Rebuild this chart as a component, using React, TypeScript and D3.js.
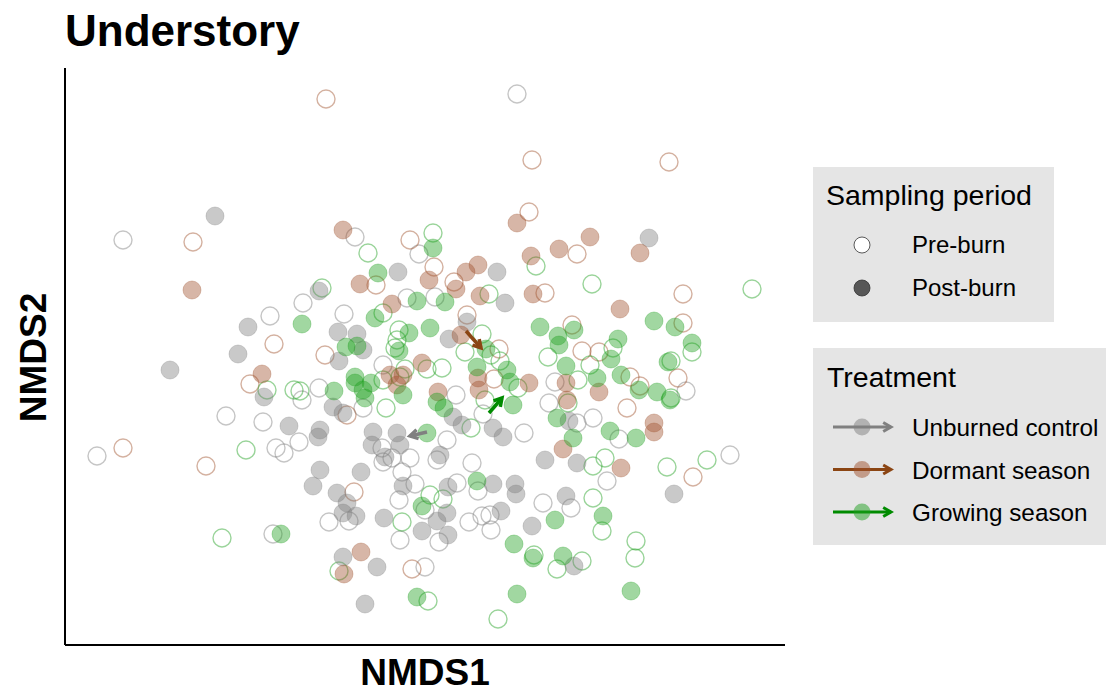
import React from "react";
import * as d3 from "d3";

// ---------- Data (NMDS scores) ----------
type Pt = [number, number];

const unburnedPre: Pt[] = [
  [-3.02, 1.17], [0.92, 2.63], [-0.7, 1.2], [-0.06, 1.03], [-1.22, 0.54], [-1.55, 0.41],
  [-1.23, -0.43], [-1.99, -0.59], [-1.62, -0.65], [-1.26, -0.85], [-1.49, -0.91], [-1.41, -0.96],
  [-3.28, -0.99], [-1.52, -1.77], [-0.81, 0.43], [-0.18, 0.59], [0.1, 0.6], [-0.42, -0.08],
  [-1.06, -0.31], [-0.62, -0.51], [0.31, -0.38], [0.58, -0.57], [0.99, -0.76], [-0.43, -0.91],
  [0.22, -0.83], [-0.33, -1.01], [0.12, -1.03], [-0.15, -1.01], [0.47, -1.06], [1.3, -0.25],
  [2.61, -0.34], [1.24, -0.46], [1.52, -0.66], [1.68, -0.61], [1.94, -0.82], [3.05, -0.98],
  [1.82, -1.24], [1.18, -1.46], [1.46, -1.51], [-0.42, -1.05], [-0.23, -1.15], [-0.76, -1.64],
  [-0.96, -1.65], [-0.1, -1.27], [-0.26, -1.43], [0.32, -1.26], [0.53, -1.34], [0.0, -1.53],
  [0.14, -1.85], [-0.25, -1.83], [0.44, -1.65], [0.57, -1.59], [0.65, -1.58], [0.66, -1.73],
  [0.0, -2.1],
];

const unburnedPost: Pt[] = [
  [-2.1, 1.41], [2.24, 1.19], [0.72, 0.85], [-0.27, 0.85], [-1.77, 0.3], [-1.87, 0.03],
  [-2.55, -0.13], [-1.61, -0.4], [-1.36, -0.69], [-1.06, 0.66], [0.8, 0.54], [-0.87, 0.25],
  [-0.68, 0.23], [-0.62, 0.07], [-0.86, -0.04], [0.24, 0.18], [0.42, 0.35], [-0.92, -0.5],
  [-0.82, -0.56], [0.28, -0.6], [0.37, -0.68], [0.68, -0.71], [0.78, -0.8], [-0.52, -0.75],
  [-0.28, -0.76], [-0.53, -0.88], [-0.25, -0.88], [-0.4, -1.0], [0.15, -0.98], [-1.05, -0.73],
  [-1.07, -0.8], [1.2, -1.03], [1.44, -0.64], [1.52, -1.06], [2.49, -1.37], [1.41, -1.39],
  [1.49, -2.09], [-1.12, -1.29], [-1.05, -1.13], [-0.64, -1.15], [-0.88, -1.36], [-0.78, -1.46],
  [-0.82, -1.56], [-0.69, -1.59], [-0.41, -1.61], [-0.22, -1.29], [0.23, -1.3], [0.68, -1.27],
  [0.9, -1.27], [0.91, -1.37], [0.22, -1.56], [0.12, -1.64], [-0.03, -1.74], [0.23, -1.78],
  [0.76, -1.54], [1.07, -1.69], [-0.82, -2.0], [-0.48, -2.1], [-0.6, -2.47],
];

const dormantPre: Pt[] = [
  [-2.32, 1.15], [-0.99, 2.58], [1.07, 1.97], [1.04, 1.45], [-0.15, 1.17], [0.09, 0.9],
  [1.52, 1.03], [2.44, 1.95], [-1.51, 0.13], [-1.75, -0.27], [-3.02, -0.91], [-2.19, -1.09],
  [-0.49, 0.72], [0.29, 0.75], [0.42, 0.42], [0.74, 0.08], [0.69, -0.22], [-1.0, 0.02],
  [-0.78, -0.58], [1.2, 0.64], [2.58, 0.63], [2.58, 0.34], [1.47, 0.32], [1.57, 0.06],
  [1.74, 0.05], [2.05, -0.2], [2.53, -0.21], [2.15, -0.29], [2.02, -0.51], [2.68, -1.2],
  [-0.71, -1.35], [-0.13, -2.12],
];

const dormantPost: Pt[] = [
  [-2.33, 0.67], [0.92, 1.34], [-0.82, 1.27], [0.53, 0.92], [0.41, 0.85], [1.06, 1.01],
  [1.65, 1.2], [1.34, 1.08], [2.15, 1.04], [-0.65, 0.73], [0.04, 0.77], [0.31, 0.68],
  [0.55, 0.61], [1.08, 0.63], [-0.33, 0.53], [0.36, 0.22], [1.04, -0.26], [0.53, -0.21],
  [0.54, -0.33], [-0.35, -0.18], [-0.22, -0.18], [-0.28, -0.28], [-0.03, -0.06], [0.13, -0.35],
  [-1.63, -0.17], [1.95, 0.48], [1.41, -0.26], [1.74, -0.35], [1.42, -0.43], [2.29, -0.66],
  [2.29, -0.75], [1.38, -0.92], [1.96, -1.11], [-0.64, -1.95], [-0.81, -2.17],
];

const growingPre: Pt[] = [
  [-0.57, 1.04], [0.08, 1.24], [1.11, 0.91], [-1.03, 0.69], [0.64, 0.63], [-0.42, 0.44],
  [-0.26, 0.27], [-0.28, 0.17], [-0.3, 0.09], [0.57, 0.23], [0.4, 0.05], [0.66, 0.02],
  [0.75, -0.04], [0.93, -0.31], [1.23, 0.0], [-0.2, -0.12], [-0.25, -0.2], [-0.42, -0.23],
  [0.02, -0.12], [0.17, -0.11], [-1.25, -0.34], [-0.39, -0.51], [0.46, -0.71], [0.6, -0.43],
  [-1.58, -0.33], [-1.31, -0.33], [-1.79, -0.93], [-2.03, -1.81], [1.67, 0.73], [3.27, 0.68],
  [1.88, 0.09], [1.65, -0.08], [1.53, -0.23], [2.46, -0.04], [2.67, 0.05], [2.46, -0.41],
  [1.43, -0.46], [1.8, -1.01], [1.68, -1.09], [2.42, -1.1], [2.82, -1.03], [1.68, -1.41],
  [1.77, -1.74], [2.11, -1.84], [2.1, -2.01], [1.32, -2.12], [1.57, -2.04], [0.05, -1.38],
  [0.18, -1.42], [-0.23, -1.65], [1.09, -1.98], [-0.86, -2.14], [0.03, -2.44], [0.73, -2.62],
];

const growingPost: Pt[] = [
  [0.08, 1.09], [-0.47, 0.84], [-1.23, 0.33], [-0.08, 0.56], [0.2, 0.55], [-0.5, 0.39],
  [-0.79, 0.1], [-0.68, 0.11], [-0.16, 0.24], [-0.26, 0.06], [0.05, 0.29], [0.61, 0.08],
  [0.82, -0.13], [0.85, -0.25], [0.52, -0.1], [0.88, -0.48], [-0.22, -0.38], [-0.7, -0.2],
  [-0.7, -0.26], [-0.54, -0.26], [-0.62, -0.33], [-0.6, -0.41], [-0.91, -0.34], [0.12, -0.45],
  [0.19, -0.51], [0.02, -0.76], [-1.44, -1.77], [1.15, 0.3], [2.29, 0.36], [2.5, 0.3],
  [1.49, 0.27], [1.33, 0.21], [1.34, 0.12], [1.93, 0.18], [1.86, -0.02], [2.67, 0.14],
  [2.43, -0.05], [1.41, -0.09], [1.72, -0.21], [1.96, -0.18], [2.14, -0.33], [2.32, -0.35],
  [2.45, -0.43], [1.32, -0.61], [1.85, -0.74], [2.11, -0.81], [1.48, -0.81], [1.3, -1.63],
  [1.78, -1.59], [1.38, -1.99], [2.06, -2.34], [0.52, -1.24], [-0.03, -1.49], [0.89, -1.87],
  [1.08, -2.01], [-0.08, -2.4], [0.92, -2.37],
];

// centroid shift arrows (pre-burn -> post-burn)
const treatments = ["Unburned control", "Dormant season", "Growing season"];
const arrowFrom: Pt[] = [[0.02, -0.75], [0.41, 0.26], [0.64, -0.56]];
const arrowTo: Pt[] = [[-0.15, -0.79], [0.56, 0.09], [0.77, -0.41]];
const periods = ["Pre-burn", "Post-burn"];

// ---------- Styling ----------
const pointColors = ["#7f7f7f", "#A0522D", "#1fa01f"];
const arrowColors = ["#808080", "#8B4513", "#008B00"];
const FONT = "'Liberation Sans', Arial, Helvetica, sans-serif";

const W = 1106;
const H = 694;
const plot = { left: 65, right: 785, top: 70, bottom: 645 };

const x = d3.scaleLinear().domain([-3.6, 3.6]).range([plot.left, plot.right]);
const y = d3.scaleLinear().domain([-2.88, 2.87]).range([plot.bottom, plot.top]);

const R = 9;

function Arrow({ x1, y1, x2, y2, color, width, head }: any) {
  const ang = Math.atan2(y2 - y1, x2 - x1);
  const a = Math.PI / 6;
  const hx1 = x2 - head * Math.cos(ang - a);
  const hy1 = y2 - head * Math.sin(ang - a);
  const hx2 = x2 - head * Math.cos(ang + a);
  const hy2 = y2 - head * Math.sin(ang + a);
  const line = d3.line();
  return (
    <g>
      <path d={line([[x1, y1], [x2, y2]]) || ""} stroke={color} strokeWidth={width} fill="none" />
      <path
        d={line([[hx1, hy1], [x2, y2], [hx2, hy2]]) || ""}
        stroke={color}
        strokeWidth={width}
        fill="none"
        strokeLinejoin="miter"
      />
    </g>
  );
}

export default function App() {
  const groups = [
    { pre: unburnedPre, post: unburnedPost, c: pointColors[0] },
    { pre: dormantPre, post: dormantPost, c: pointColors[1] },
    { pre: growingPre, post: growingPost, c: pointColors[2] },
  ];

  return (
    <svg
      width={W}
      height={H}
      style={{ position: "absolute", left: 0, top: 0, background: "#fff" }}
      fontFamily={FONT}
    >
      <rect width={W} height={H} fill="#fff" />
      {/* title */}
      <text x={65} y={46} fontSize={44} fontWeight="bold" fill="#000">
        Understory
      </text>

      {/* points */}
      {groups.map((g, gi) => (
        <g key={"pre" + gi}>
          {g.pre.map((p, i) => (
            <circle
              key={i}
              cx={x(p[0])}
              cy={y(p[1])}
              r={R}
              fill="none"
              stroke={g.c}
              strokeOpacity={0.45}
              strokeWidth={1.4}
            />
          ))}
        </g>
      ))}
      {groups.map((g, gi) => (
        <g key={"post" + gi}>
          {g.post.map((p, i) => (
            <circle
              key={i}
              cx={x(p[0])}
              cy={y(p[1])}
              r={R}
              fill={g.c}
              fillOpacity={0.42}
              stroke={g.c}
              strokeOpacity={0.3}
              strokeWidth={1}
            />
          ))}
        </g>
      ))}

      {/* centroid arrows */}
      {treatments.map((t, i) => (
        <Arrow
          key={t}
          x1={x(arrowFrom[i][0])}
          y1={y(arrowFrom[i][1])}
          x2={x(arrowTo[i][0])}
          y2={y(arrowTo[i][1])}
          color={arrowColors[i]}
          width={3.5}
          head={9}
        />
      ))}

      {/* axes */}
      <line x1={plot.left} x2={plot.left} y1={plot.top - 2} y2={plot.bottom} stroke="#000" strokeWidth={2} />
      <line x1={plot.left} x2={plot.right} y1={plot.bottom} y2={plot.bottom} stroke="#000" strokeWidth={2} />

      <text x={(plot.left + plot.right) / 2} y={685} fontSize={37} fontWeight="bold" textAnchor="middle">
        NMDS1
      </text>
      <text
        transform={`translate(46, ${(plot.top + plot.bottom) / 2}) rotate(-90)`}
        fontSize={37}
        fontWeight="bold"
        textAnchor="middle"
      >
        NMDS2
      </text>

      {/* legend: sampling period */}
      <g>
        <rect x={813} y={167} width={241} height={155} fill="#e5e5e5" />
        <text x={826} y={205} fontSize={28.5} fill="#000">
          Sampling period
        </text>
        {periods.map((p, i) => (
          <g key={p}>
            <circle
              cx={862}
              cy={245 + i * 43}
              r={8}
              fill={i === 0 ? "#fff" : "#333"}
              fillOpacity={i === 0 ? 1 : 0.8}
              stroke="#333"
              strokeOpacity={0.8}
              strokeWidth={1}
            />
            <text x={912} y={253 + i * 43} fontSize={24}>
              {p}
            </text>
          </g>
        ))}
      </g>

      {/* legend: treatment */}
      <g>
        <rect x={813} y={348} width={300} height={197} fill="#e5e5e5" />
        <text x={827} y={387} fontSize={28.5} fill="#000">
          Treatment
        </text>
        {treatments.map((t, i) => {
          const cy = 427 + i * 42.5;
          return (
            <g key={t}>
              <Arrow x1={833} y1={cy} x2={891} y2={cy} color={arrowColors[i]} width={3} head={9} />
              <circle cx={862} cy={cy} r={8.5} fill={pointColors[i]} fillOpacity={0.5} stroke="none" />
              <text x={912} y={cy + 9} fontSize={24.3}>
                {t}
              </text>
            </g>
          );
        })}
      </g>
    </svg>
  );
}
